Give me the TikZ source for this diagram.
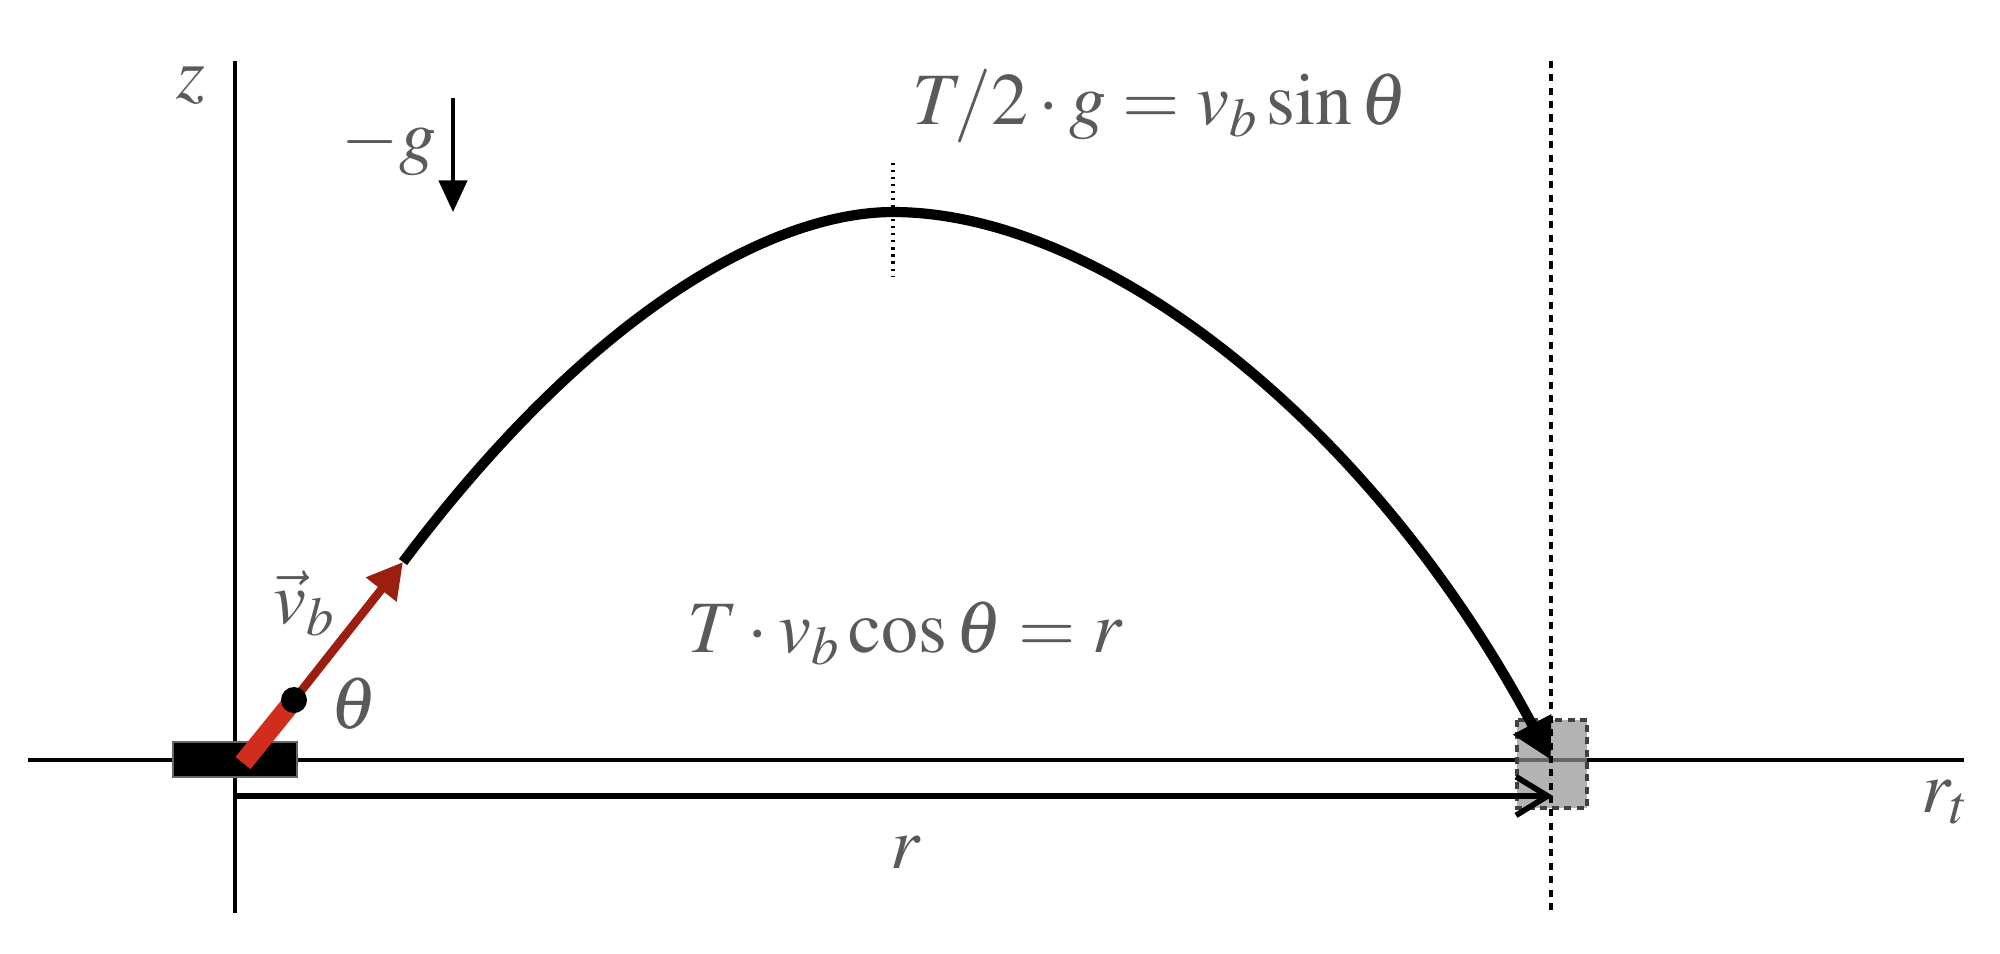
\documentclass[tikz,border=0pt]{standalone}
\usepackage{amssymb, amsmath}
\usepackage{mathptmx}
\usepackage{tikz}
\usetikzlibrary{arrows.meta, calc}
\definecolor{launchred}{RGB}{208, 45, 28}
\definecolor{darkred}{RGB}{155, 30, 15}
\definecolor{labelgray}{RGB}{90, 90, 90}
\definecolor{targetgray}{RGB}{145, 145, 145}

\begin{document}
\begin{tikzpicture}[x=0.01cm, y=-0.01cm, thick,
    lbl/.style={text=labelgray, font=\fontsize{21}{25}\selectfont, inner sep=0pt}]
  \useasboundingbox (0, 0) rectangle (2000, 953);

  \coordinate (origin) at (235, 760);
  \coordinate (base) at (243, 763);
  \coordinate (ball) at (294, 700);
  \coordinate (tip) at (403, 562);
  \coordinate (peak) at (893, 212);
  \coordinate (land) at (1551, 760);
  \coordinate (rstart) at (235, 796);
  \coordinate (rend) at (1553, 796);
  \coordinate (gtop) at (453, 98);
  \coordinate (gbot) at (453, 212);

  % axes
  \draw[line width=0.9pt] (28, 760) -- (1964, 760);
  \draw[line width=0.9pt] (235, 61) -- (235, 913);

  % target
  \filldraw[fill=targetgray, fill opacity=0.69, draw=black!75, line width=0.9pt,
    dash pattern=on 2pt off 1.5pt] (1517, 720) rectangle (1587, 808);
  \draw[line width=1pt, dash pattern=on 2pt off 1.8pt] (1551, 61) -- (1551, 913);

  % launcher
  \filldraw[fill=black, draw=black!60, line width=0.5pt] (173, 742) rectangle (297, 777);

  % trajectory
  \draw[line width=2.9pt, -{Triangle[length=11.5pt, width=11.5pt]}]
    (tip) .. controls (600, 300) and (780, 212) .. (peak)
    .. controls (1100, 212) and (1370, 420) .. (land);
  \draw[line width=1pt, dash pattern=on 0.6pt off 1.4pt] (893, 163) -- (893, 277);

  \draw[launchred, line width=5.5pt] (base) -- (ball);
  \draw[darkred, line width=2.4pt, -{Triangle[length=10pt, width=10.5pt]}] (ball) -- (tip);
  \fill[black] (ball) circle (13);

  \draw[line width=1.6pt, -{Straight Barb[length=9pt, width=11pt]}] (rstart) -- (rend);
  \draw[line width=1.2pt, -{Triangle[length=9pt, width=8pt]}] (gtop) -- (gbot);

  \node[lbl] (zlabel) at (191, 85) {$z$};
  \node[lbl, anchor=base] (glabel) at (389, 160) {$-g$};
  \node[lbl, anchor=base] (apex) at (1160, 124) {$T\!/2\cdot g = v_b\sin\theta$};
  \node[lbl, anchor=base] (range) at (905, 652) {$T\cdot v_b\cos\theta = r$};
  \node[lbl, anchor=base] (rlabel) at (906, 868) {$r$};
  \node[lbl, anchor=base west] (rtlabel) at (1920, 812) {$r_t$};
  \node[lbl, anchor=base west] (vlabel) at (272, 623) {$\vec{v}_b$};
  \node[lbl, anchor=base] (thlabel) at (354, 728) {$\theta$};
\end{tikzpicture}
\end{document}
